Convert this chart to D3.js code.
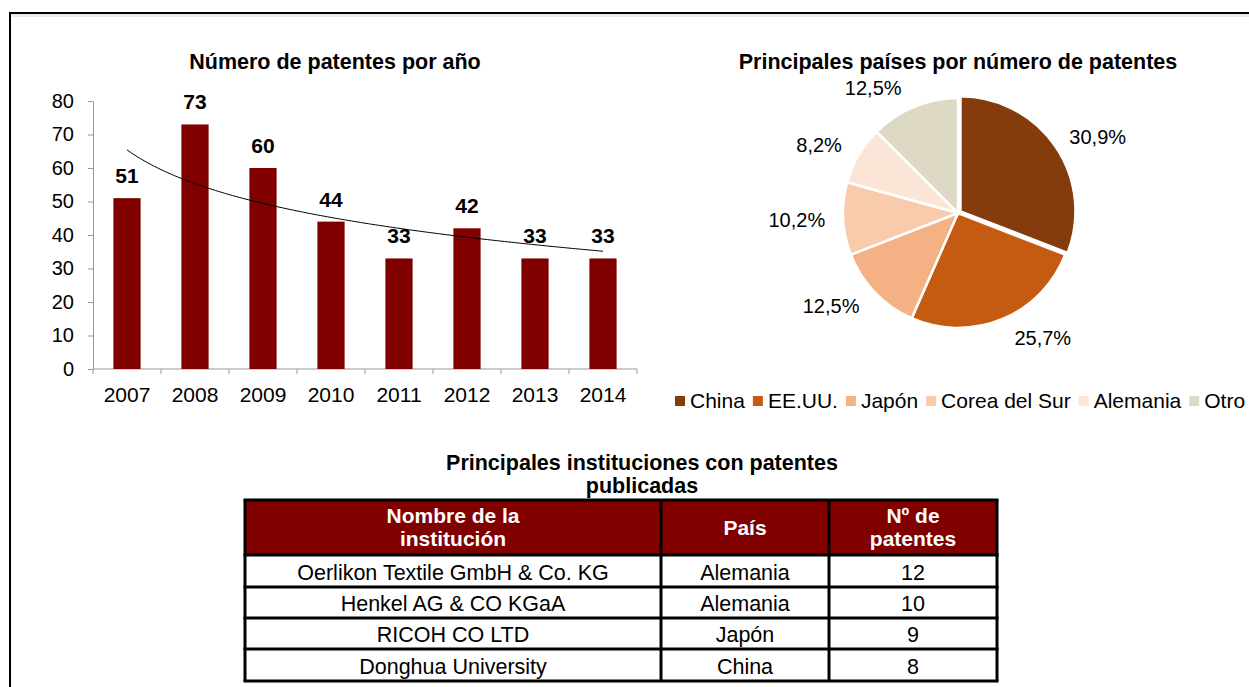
<!DOCTYPE html>
<html>
<head>
<meta charset="utf-8">
<script src="https://cdn.jsdelivr.net/npm/d3@7"></script>
<style>
  body { margin: 0; background: #fff; }
  text { font-family: "Liberation Sans", Arial, sans-serif; }
</style>
</head>
<body>
<div id="chart"></div>
<script>
// Bar chart data
const years = ["2007", "2008", "2009", "2010", "2011", "2012", "2013", "2014"];
const patents = [51, 73, 60, 44, 33, 42, 33, 33];
const yTicks = [0, 10, 20, 30, 40, 50, 60, 70, 80];

// Pie chart data
const countries = ["China", "EE.UU.", "Japón", "Corea del Sur", "Alemania", "Otro"];
const shares = [30.9, 25.7, 12.5, 10.2, 8.2, 12.5];
const pieColors = ["#843C0C", "#C55A11", "#F4B183", "#F8CBAD", "#FBE5D6", "#DDD9C4"];

// Table data
const tableHeader = [["Nombre de la", "institución"], ["País"], ["Nº de", "patentes"]];
const institutions = ["Oerlikon Textile GmbH & Co. KG", "Henkel AG & CO KGaA", "RICOH CO LTD", "Donghua University"];
const instCountries = ["Alemania", "Alemania", "Japón", "China"];
const instPatents = [12, 10, 9, 8];

const W = 1249, H = 687;
const FS = 21;       // base font size
const FT = 21.5;     // titles and table text
const svg = d3.select("#chart").append("svg")
    .attr("width", W)
    .attr("height", H);

// Outer frame
svg.append("rect")
    .attr("x", 10).attr("y", 13)
    .attr("width", W + 20).attr("height", H + 20)
    .attr("fill", "#fff")
    .attr("stroke", "#000")
    .attr("stroke-width", 2);
svg.append("line")
    .attr("x1", 11).attr("x2", W).attr("y1", 15.5).attr("y2", 15.5)
    .attr("stroke", "#ececec").attr("stroke-width", 3);

// ---------- Bar chart ----------
const bar = {left: 93, right: 637, top: 101, bottom: 369};

const x = d3.scaleBand()
    .domain(years)
    .range([bar.left, bar.right])
    .paddingInner(0.6)
    .paddingOuter(0.3);

const y = d3.scaleLinear()
    .domain([0, 80])
    .range([bar.bottom, bar.top]);

svg.append("text")
    .attr("x", 335).attr("y", 68.5)
    .attr("text-anchor", "middle")
    .attr("font-size", FT).attr("font-weight", "bold")
    .text("Número de patentes por año");

// y axis
const yAxis = svg.append("g")
    .attr("transform", `translate(${bar.left},0)`)
    .call(d3.axisLeft(y).tickValues(yTicks).tickSize(5).tickSizeOuter(0).tickPadding(14));
yAxis.select(".domain").attr("stroke", "#999");
yAxis.selectAll(".tick line").attr("stroke", "#999");
yAxis.selectAll(".tick text").attr("font-size", 20).attr("fill", "#000")
    .attr("font-family", "Liberation Sans, Arial, sans-serif");

// x axis with boundary ticks
const xAxis = svg.append("g")
    .attr("transform", `translate(0,${bar.bottom})`);
xAxis.append("line")
    .attr("x1", bar.left).attr("x2", bar.right)
    .attr("stroke", "#999");
d3.range(years.length + 1).forEach(i => {
    const bx = bar.left + i * (bar.right - bar.left) / years.length;
    xAxis.append("line")
        .attr("x1", bx).attr("x2", bx).attr("y1", 0).attr("y2", 5)
        .attr("stroke", "#999");
});
xAxis.selectAll("text.xl")
    .data(years)
    .enter().append("text")
    .attr("class", "xl")
    .attr("x", d => x(d) + x.bandwidth() / 2)
    .attr("y", 32.5)
    .attr("text-anchor", "middle")
    .attr("font-size", FS)
    .text(d => d);

// bars
svg.selectAll("rect.bar")
    .data(patents)
    .enter().append("rect")
    .attr("class", "bar")
    .attr("x", (d, i) => x(years[i]))
    .attr("y", d => y(d))
    .attr("width", x.bandwidth())
    .attr("height", d => bar.bottom - y(d))
    .attr("fill", "#800000");

// value labels
svg.selectAll("text.val")
    .data(patents)
    .enter().append("text")
    .attr("class", "val")
    .attr("x", (d, i) => x(years[i]) + x.bandwidth() / 2)
    .attr("y", d => y(d) - 15)
    .attr("text-anchor", "middle")
    .attr("font-size", FS).attr("font-weight", "bold")
    .text(d => d);

// logarithmic trend line fitted to the bar values
const lnX = patents.map((d, i) => Math.log(i + 1));
const mx = d3.mean(lnX), my = d3.mean(patents);
const b = d3.sum(lnX, (v, i) => (v - mx) * (patents[i] - my)) / d3.sum(lnX, v => (v - mx) * (v - mx));
const a = my - b * mx;
const tx = d3.scaleLinear()
    .domain([1, years.length])
    .range([x(years[0]) + x.bandwidth() / 2, x(years[years.length - 1]) + x.bandwidth() / 2]);
const trendPts = d3.range(1, years.length + 0.001, 0.05).map(t => [tx(t), y(a + b * Math.log(t))]);
svg.append("path")
    .attr("d", d3.line()(trendPts))
    .attr("fill", "none")
    .attr("stroke", "#000")
    .attr("stroke-width", 1);

// ---------- Pie chart ----------
const cx = 958, cy = 213, r = 115;

svg.append("text")
    .attr("x", cx).attr("y", 68.5)
    .attr("text-anchor", "middle")
    .attr("font-size", FT).attr("font-weight", "bold")
    .text("Principales países por número de patentes");

const pie = d3.pie().sort(null).value(d => d);
const arcs = pie(shares);
const arc = d3.arc().innerRadius(0).outerRadius(r);

const pieG = svg.append("g").attr("transform", `translate(${cx},${cy})`);
pieG.selectAll("path")
    .data(arcs)
    .enter().append("path")
    .attr("d", arc)
    .attr("transform", (d, i) => {
        if (i !== 0) return null;
        const m = (d.startAngle + d.endAngle) / 2;
        return `translate(${Math.sin(m) * 3},${-Math.cos(m) * 3})`;
    })
    .attr("fill", (d, i) => pieColors[i])
    .attr("stroke", "#fff")
    .attr("stroke-width", 2.5);

// outside-end labels
const fmt = v => v.toFixed(1).replace(".", ",") + "%";
pieG.selectAll("text")
    .data(arcs)
    .enter().append("text")
    .attr("font-size", 20)
    .attr("text-anchor", "middle")
    .attr("dy", "0.35em")
    .text(d => fmt(d.data))
    .each(function(d) {
        const m = (d.startAngle + d.endAngle) / 2;
        const hw = this.getComputedTextLength() / 2;
        const s = Math.sin(m);
        d3.select(this)
            .attr("x", s * (r + 9) + Math.sign(s) * (hw + 9))
            .attr("y", -Math.cos(m) * (r + 20));
    });

// legend
const legend = svg.append("g").attr("transform", "translate(675,401)");
let lx = 0;
countries.forEach((c, i) => {
    legend.append("rect")
        .attr("x", lx).attr("y", -5)
        .attr("width", 10).attr("height", 10)
        .attr("fill", pieColors[i]);
    const t = legend.append("text")
        .attr("x", lx + 15).attr("y", 0)
        .attr("dy", "0.35em")
        .attr("font-size", FS)
        .text(c);
    lx += 15 + t.node().getComputedTextLength() + 8;
});

// ---------- Table ----------
svg.append("text")
    .attr("x", 642).attr("y", 469.5)
    .attr("text-anchor", "middle")
    .attr("font-size", FT).attr("font-weight", "bold")
    .text("Principales instituciones con patentes");
svg.append("text")
    .attr("x", 642).attr("y", 492.5)
    .attr("text-anchor", "middle")
    .attr("font-size", FT).attr("font-weight", "bold")
    .text("publicadas");

const colX = [245, 661, 829, 997];
const rowY = [500, 555, 587, 618, 649, 681];

svg.append("rect")
    .attr("x", colX[0]).attr("y", rowY[0])
    .attr("width", colX[3] - colX[0]).attr("height", rowY[1] - rowY[0])
    .attr("fill", "#800000");

tableHeader.forEach((lines, j) => {
    const mid = (colX[j] + colX[j + 1]) / 2;
    const cyH = (rowY[0] + rowY[1]) / 2;
    lines.forEach((ln, k) => {
        svg.append("text")
            .attr("x", mid)
            .attr("y", cyH + (k - (lines.length - 1) / 2) * 23)
            .attr("dy", "0.35em")
            .attr("text-anchor", "middle")
            .attr("font-size", FS).attr("font-weight", "bold")
            .attr("fill", "#fff")
            .text(ln);
    });
});

const rows = institutions.map((n, i) => [n, instCountries[i], instPatents[i]]);
rows.forEach((row, i) => {
    row.forEach((v, j) => {
        svg.append("text")
            .attr("x", (colX[j] + colX[j + 1]) / 2)
            .attr("y", (rowY[i + 1] + rowY[i + 2]) / 2 + 1)
            .attr("dy", "0.35em")
            .attr("text-anchor", "middle")
            .attr("font-size", FT)
            .text(v);
    });
});

// grid lines
const grid = svg.append("g").attr("stroke", "#000").attr("stroke-width", 3);
rowY.forEach(ry => {
    grid.append("line").attr("x1", colX[0] - 1.5).attr("x2", colX[3] + 1.5).attr("y1", ry).attr("y2", ry);
});
colX.forEach(cxl => {
    grid.append("line").attr("x1", cxl).attr("x2", cxl).attr("y1", rowY[0]).attr("y2", rowY[rowY.length - 1]);
});
</script>
</body>
</html>
